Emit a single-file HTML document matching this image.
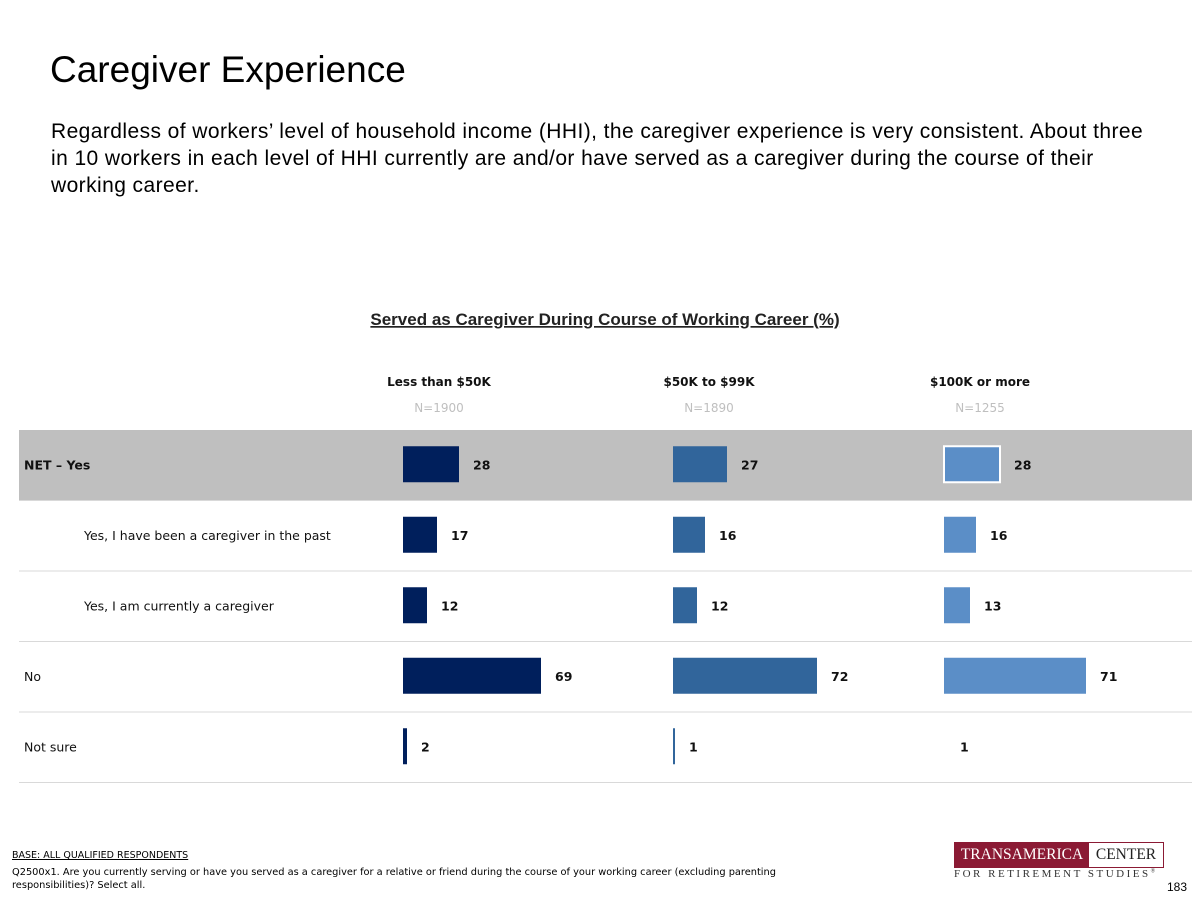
<!DOCTYPE html>
<html><head><meta charset="utf-8"><style>
body{margin:0;width:1200px;height:900px;background:#fff;font-family:"Liberation Sans",sans-serif;position:relative;overflow:hidden}
.a{position:absolute;white-space:nowrap}
</style></head><body>
<div class="a" style="left:50px;top:49px;font-size:37px;color:#000">Caregiver Experience</div>
<div class="a" style="left:51px;top:118px;font-size:21px;line-height:27px;color:#000;white-space:normal;width:1100px;letter-spacing:0.42px">Regardless of workers’ level of household income (HHI), the caregiver experience is very consistent. About three in 10 workers in each level of HHI currently are and/or have served as a caregiver during the course of their working career.</div>
<svg id="chart" class="a" style="left:0;top:0" width="1200" height="900"></svg>
<div class="a" style="left:12px;top:850px;text-decoration:underline;font-family:'DejaVu Sans',sans-serif;font-size:9.5px">BASE: ALL QUALIFIED RESPONDENTS</div>
<div class="a" style="left:12px;top:866px;font-family:'DejaVu Sans',sans-serif;font-size:9.8px;line-height:13px;white-space:normal;width:840px">Q2500x1. Are you currently serving or have you served as a caregiver for a relative or friend during the course of your working career (excluding parenting responsibilities)? Select all.</div>
<div class="a" style="left:954px;top:842px;width:208px;height:24px;border:1px solid #8b1a34;display:flex;font-family:'Liberation Serif',serif;font-size:15.5px">
<div style="background:#8b1a34;color:#fff;width:134px;text-align:center;line-height:24px">TRANSAMERICA</div><div style="color:#222;flex:1;text-align:center;line-height:24px">CENTER</div></div>
<div class="a" style="left:954px;top:868px;font-family:'Liberation Serif',serif;font-size:11px;letter-spacing:2.5px;color:#333">FOR RETIREMENT STUDIES<sup style="font-size:6px">®</sup></div>
<div class="a" style="left:1167px;top:880px;font-size:12px">183</div>
<script>
const groups=["Less than $50K","$50K to $99K","$100K or more"];
const ns=["N=1900","N=1890","N=1255"];
const rows=["NET – Yes","Yes, I have been a caregiver in the past","Yes, I am currently a caregiver","No","Not sure"];
const lowIncome=[28,17,12,69,2];
const midIncome=[27,16,12,72,1];
const highIncome=[28,16,13,71,1];
const S="http://www.w3.org/2000/svg",svg=document.getElementById('chart');
function mk(t,at,txt){const e=document.createElementNS(S,t);for(const k in at)e.setAttribute(k,at[k]);if(txt!=null)e.textContent=txt;svg.appendChild(e);return e;}
const gx=[403,673,944],unit=2,rowY=i=>430+i*70.5,rowH=70.5;
const colors=["#001f5c","#31659b","#5b8ec7"];
const series=[lowIncome,midIncome,highIncome];
const ff='"DejaVu Sans",sans-serif';
let t=mk('text',{x:605,y:325,'text-anchor':'middle','font-size':17,'font-weight':'bold','font-family':'"Liberation Sans",sans-serif',fill:'#222','text-decoration':'underline'},'Served as Caregiver During Course of Working Career (%)');

let bg=mk('rect',{x:19,y:430,width:1173,height:70,fill:'#bfbfbf'});

for(let i=1;i<=rows.length;i++){let l=mk('line',{x1:19,x2:1192,y1:rowY(i),y2:rowY(i),stroke:'#d9d9d9'});}
groups.forEach((g,j)=>{
 let h=mk('text',{x:gx[j]+36,y:386,'text-anchor':'middle','font-size':12,'font-weight':'bold','font-family':ff,fill:'#111'},g);
 
 let n=mk('text',{x:gx[j]+36,y:412,'text-anchor':'middle','font-size':12,'font-family':ff,fill:'#bfbfbf'},ns[j]);
 
});
rows.forEach((r,i)=>{
 const cy=rowY(i)+rowH/2-1;
 const ind=(i==1||i==2)?84:24;
 let lb=mk('text',{x:ind,y:cy+5,'font-size':12.5,'font-family':ff,fill:'#111','font-weight':i==0?'bold':'normal'},r);
 
 series.forEach((s,j)=>{
  const w=s[i]*unit;
  const hide=(j==2&&s[i]<=1);
  let b=mk('rect',{x:gx[j],y:cy-18,width:w,height:36,fill:hide?'#fff':colors[j]});
  if(i==0&&j==2){b.setAttribute('stroke','#fff');b.setAttribute('stroke-width',2);}
  
  let v=mk('text',{x:gx[j]+w+14,y:cy+5,'font-size':12.5,'font-weight':'bold','font-family':ff,fill:'#111'},s[i]);
  
 });
});
</script>
</body></html>
